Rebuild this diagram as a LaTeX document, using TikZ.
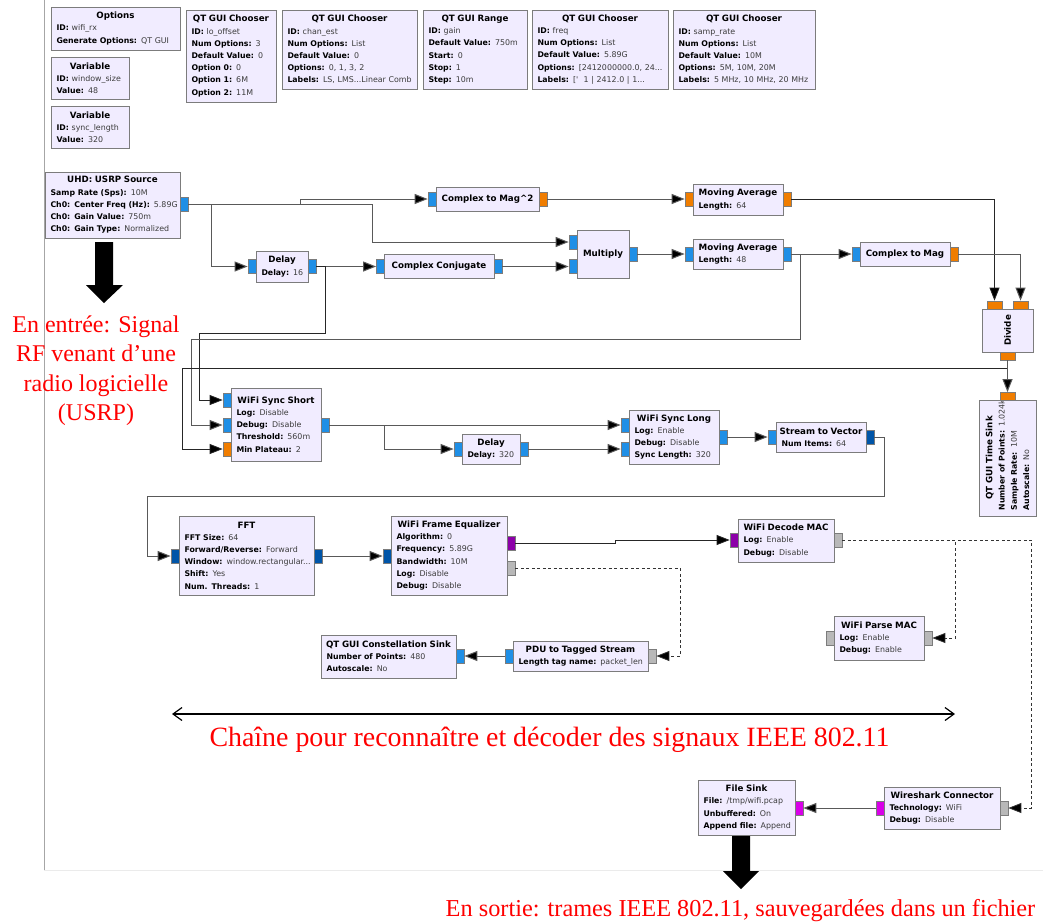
\documentclass[tikz,border=0pt]{standalone}
\usepackage{fontspec}
\usetikzlibrary{arrows.meta}
\newfontfamily\grc{DejaVu Sans}
\newfontfamily\redf{Liberation Serif}
\definecolor{blockfill}{HTML}{F1ECFF}
\definecolor{blockline}{HTML}{7C7C7C}
\definecolor{valcol}{HTML}{3C3C3C}
\definecolor{pblue}{HTML}{1F8FE6}
\definecolor{porange}{HTML}{F07D00}
\definecolor{pdark}{HTML}{0055A8}
\definecolor{ppurple}{HTML}{8C00A8}
\definecolor{pmag}{HTML}{D800E8}
\definecolor{pgray}{HTML}{B8B8B8}
\tikzset{
  block/.style={draw=blockline,fill=blockfill,line width=1pt,inner sep=0pt,align=left,
    font=\grc\fontsize{8}{12.2}\selectfont,text=black},
  portbox/.style={draw=blockline,line width=0.7pt,inner sep=0pt},
  conn/.style={draw=black!65,line width=1pt,-{Triangle[length=13pt,width=10pt,fill=black]}},
  connd/.style={conn,draw=black!85,line width=0.8pt},
  msg/.style={draw=black!80,line width=0.8pt,dash pattern=on 3pt off 2.5pt,-{Triangle[length=13pt,width=10pt,fill=black]}},
  bigarrow/.style={fill=black,draw=none},
  redtext/.style={text=red,font=\redf\fontsize{24}{29.5}\selectfont,inner sep=0pt,align=center}
}
\newcommand{\kv}[2]{\makebox[\linewidth][l]{\fontsize{7.8}{12.2}\selectfont{\bfseries #1:} {\fontsize{7.9}{12.2}\selectfont\color{valcol}#2}}}
\newcommand{\ttl}[1]{\makebox[\linewidth][c]{\fontsize{8.7}{12.2}\selectfont\bfseries #1}}
\newcommand{\blk}[6]{%
  \pgfmathsetmacro\bw{#4-#2}\pgfmathsetmacro\bh{#5-#3}\pgfmathsetmacro\tw{\bw-11}%
  \pgfmathsetmacro\cx{(#2+#4)/2}\pgfmathsetmacro\cy{(#3+#5)/2}%
  \node[block,minimum width=\bw pt,minimum height=\bh pt,text width=\tw pt] (#1) at (\cx,\cy)
    {\ttl{#6}};}
\newcommand{\blkk}[7]{%
  \pgfmathsetmacro\bw{#4-#2}\pgfmathsetmacro\bh{#5-#3}\pgfmathsetmacro\tw{\bw-11}%
  \pgfmathsetmacro\cx{(#2+#4)/2}\pgfmathsetmacro\cy{(#3+#5)/2}%
  \node[block,minimum width=\bw pt,minimum height=\bh pt,text width=\tw pt] (#1) at (\cx,\cy)
    {\ttl{#6}\\#7};}
\newcommand{\blkr}[7]{%
  \pgfmathsetmacro\bw{#4-#2}\pgfmathsetmacro\bh{#5-#3}\pgfmathsetmacro\tw{\bh-11}%
  \pgfmathsetmacro\cx{(#2+#4)/2}\pgfmathsetmacro\cy{(#3+#5)/2}%
  \node[block,rotate=90,minimum width=\bh pt,minimum height=\bw pt,text width=\tw pt] (#1) at (\cx,\cy)
    {\ttl{#6}#7};}
\newcommand{\prt}[4]{\node[portbox,fill=#4,minimum width=8pt,minimum height=14pt] (#1) at (#2,#3) {};}
\newcommand{\prv}[4]{\node[portbox,fill=#4,minimum width=15pt,minimum height=8pt] (#1) at (#2,#3) {};}
\begin{document}
\begin{tikzpicture}[x=1pt,y=-1pt]
\useasboundingbox (0,0) rectangle (1043,921);
\draw[black!35,line width=0.7pt] (44,0) -- (44,870);
\draw[black!8,line width=0.7pt] (44,870) -- (1043,870);

% top variable blocks
\blkk{options}{51}{7}{180}{50}{Options}{\kv{ID}{wifi\_rx}\\\kv{Generate Options}{QT GUI}}
\blkk{winsize}{51}{57}{129}{99}{Variable}{\kv{ID}{window\_size}\\\kv{Value}{48}}
\blkk{synclen}{51}{106}{129}{148}{Variable}{\kv{ID}{sync\_length}\\\kv{Value}{320}}
\blkk{chlo}{186}{10}{276}{102}{QT GUI Chooser}{\kv{ID}{lo\_offset}\\\kv{Num Options}{3}\\\kv{Default Value}{0}\\\kv{Option 0}{0}\\\kv{Option 1}{6M}\\\kv{Option 2}{11M}}
\blkk{chest}{282}{10}{417}{89}{QT GUI Chooser}{\kv{ID}{chan\_est}\\\kv{Num Options}{List}\\\kv{Default Value}{0}\\\kv{Options}{0, 1, 3, 2}\\\kv{Labels}{LS, LMS...Linear Comb}}
\blkk{gain}{423}{10}{527}{89}{QT GUI Range}{\kv{ID}{gain}\\\kv{Default Value}{750m}\\\kv{Start}{0}\\\kv{Stop}{1}\\\kv{Step}{10m}}
\blkk{freq}{532}{10}{668}{89}{QT GUI Chooser}{\kv{ID}{freq}\\\kv{Num Options}{List}\\\kv{Default Value}{5.89G}\\\kv{Options}{[2412000000.0, 24...}\\\kv{Labels}{['\ \ 1 | 2412.0 | 1...}}
\blkk{samp}{673}{10}{815}{89}{QT GUI Chooser}{\kv{ID}{samp\_rate}\\\kv{Num Options}{List}\\\kv{Default Value}{10M}\\\kv{Options}{5M, 10M, 20M}\\\kv{Labels}{5 MHz, 10 MHz, 20 MHz}}

% flow blocks
\blkk{usrp}{45}{172}{180}{238}{UHD: USRP Source}{\kv{Samp Rate (Sps)}{10M}\\\kv{Ch0: Center Freq (Hz)}{5.89G}\\\kv{Ch0: Gain Value}{750m}\\\kv{Ch0: Gain Type}{Normalized}}
\prt{usrpO}{184}{204.5}{pblue}
\blkk{delaya}{256}{251}{308}{282}{Delay}{\kv{Delay}{16}}
\prt{delayaI}{252}{266.5}{pblue}\prt{delayaO}{312}{266.5}{pblue}
\blk{conj}{384}{254}{494}{278}{Complex Conjugate}
\prt{conjI}{380.5}{266.5}{pblue}\prt{conjO}{498}{266.5}{pblue}
\blk{magsq}{436}{187}{539}{211}{Complex to Mag\textasciicircum 2}
\prt{magsqI}{432}{199}{pblue}\prt{magsqO}{543}{199}{porange}
\blkk{maa}{693}{184}{783}{215}{Moving Average}{\kv{Length}{64}}
\prt{maaI}{689}{199}{porange}\prt{maaO}{787}{199}{porange}
\blk{mult}{577}{230}{629}{278}{Multiply}
\prt{multA}{573}{242}{pblue}\prt{multB}{573}{266.5}{pblue}\prt{multO}{633}{254}{pblue}
\blkk{mab}{693}{239}{783}{269}{Moving Average}{\kv{Length}{48}}
\prt{mabI}{689}{254}{pblue}\prt{mabO}{787}{254}{pblue}
\blk{mag}{860}{242}{950}{266}{Complex to Mag}
\prt{magI}{856}{254}{pblue}\prt{magO}{954}{254}{porange}
\blkr{divide}{982}{309}{1033}{352}{Divide}{}
\prv{divA}{994.5}{305}{porange}\prv{divB}{1020.5}{305}{porange}\prv{divO}{1007.5}{356}{porange}
\blkr{tsink}{979}{400}{1036}{516}{QT GUI Time Sink}{\\\kv{Number of Points}{1.024k}\\\kv{Sample Rate}{10M}\\\kv{Autoscale}{No}}
\prv{tsinkI}{1007.5}{396.5}{porange}
\blkk{sshort}{231}{388}{321}{461}{WiFi Sync Short}{\kv{Log}{Disable}\\\kv{Debug}{Disable}\\\kv{Threshold}{560m}\\\kv{Min Plateau}{2}}
\prt{ssA}{227}{400}{pblue}\prt{ssB}{227}{425}{pblue}\prt{ssC}{227}{449}{porange}\prt{ssO}{325}{425}{pblue}
\blkk{delayb}{462}{434}{520}{464}{Delay}{\kv{Delay}{320}}
\prt{delaybI}{458}{449}{pblue}\prt{delaybO}{524}{449}{pblue}
\blkk{slong}{629}{410}{719}{464}{WiFi Sync Long}{\kv{Log}{Enable}\\\kv{Debug}{Disable}\\\kv{Sync Length}{320}}
\prt{slA}{625}{425}{pblue}\prt{slB}{625}{449}{pblue}\prt{slO}{723}{437}{pblue}
\blkk{s2v}{776}{422}{866}{452}{Stream to Vector}{\kv{Num Items}{64}}
\prt{s2vI}{772}{437}{pblue}\prt{s2vO}{870}{437}{pdark}
\blkk{fft}{179}{516}{314}{595}{FFT}{\kv{FFT Size}{64}\\\kv{Forward/Reverse}{Forward}\\\kv{Window}{window.rectangular...}\\\kv{Shift}{Yes}\\\kv{Num. Threads}{1}}
\prt{fftI}{175}{556}{pdark}\prt{fftO}{318}{556}{pdark}
\blkk{equal}{391}{516}{507}{595}{WiFi Frame Equalizer}{\kv{Algorithm}{0}\\\kv{Frequency}{5.89G}\\\kv{Bandwidth}{10M}\\\kv{Log}{Disable}\\\kv{Debug}{Disable}}
\prt{eqI}{387}{556}{pdark}\prt{eqO}{511}{543}{ppurple}\prt{eqM}{511}{568}{pgray}
\blkk{decode}{738}{519}{834}{562}{WiFi Decode MAC}{\kv{Log}{Enable}\\\kv{Debug}{Disable}}
\prt{decI}{734}{540}{ppurple}\prt{decM}{838}{540}{pgray}
\blkk{parse}{834}{616}{924}{660}{WiFi Parse MAC}{\kv{Log}{Enable}\\\kv{Debug}{Enable}}
\prt{parL}{830}{638}{pgray}\prt{parR}{928}{638}{pgray}
\blkk{pdu}{513}{641}{648}{671}{PDU to Tagged Stream}{\kv{Length tag name}{packet\_len}}
\prt{pduI}{509}{656}{pblue}\prt{pduM}{652}{656}{pgray}
\blkk{const}{321}{635}{456}{678}{QT GUI Constellation Sink}{\kv{Number of Points}{480}\\\kv{Autoscale}{No}}
\prt{constI}{460}{656}{pblue}
\blkk{fsink}{698}{780}{795}{835}{File Sink}{\kv{File}{/tmp/wifi.pcap}\\\kv{Unbuffered}{On}\\\kv{Append file}{Append}}
\prt{fsinkI}{799}{808}{pmag}
\blkk{wire}{884}{787}{1000}{829}{Wireshark Connector}{\kv{Technology}{WiFi}\\\kv{Debug}{Disable}}
\prt{wireO}{880}{808}{pmag}\prt{wireM}{1004}{808}{pgray}

% connectors
\draw[conn] (usrpO.east) -- (300,204.5) |- (magsqI.west);
\draw[conn] (usrpO.east) -- (372,204.5) |- (multA.west);
\draw[conn] (usrpO.east) -- (211,204.5) |- (delayaI.west);
\draw[conn] (delayaO.east) -- (conjI.west);
\draw[connd] (delayaO.east) -- (325,266.5) |- (199,333) |- (ssA.west);
\draw[conn] (conjO.east) -- (multB.west);
\draw[conn] (magsqO.east) -- (maaI.west);
\draw[conn] (multO.east) -- (mabI.west);
\draw[conn] (mabO.east) -- (magI.west);
\draw[conn] (mabO.east) -- (800.5,254) |- (191,339) |- (ssB.west);
\draw[connd] (divO.south) |- (182,368.5) |- (ssC.west);
\draw[conn] (divO.south) -- (tsinkI.north);
\draw[connd] (maaO.east) -| (divA.north);
\draw[conn] (magO.east) -| (divB.north);
\draw[conn] (ssO.east) -- (slA.west);
\draw[conn] (ssO.east) -- (384,425) |- (delaybI.west);
\draw[conn] (delaybO.east) -- (slB.west);
\draw[conn] (slO.east) -- (s2vI.west);
\draw[conn] (s2vO.east) -- (884,437) |- (147,496) |- (fftI.west);
\draw[conn] (fftO.east) -- (eqI.west);
\draw[connd] (eqO.east) -- (615,543) |- (decI.west);
\draw[msg] (eqM.east) -- (680,568) |- (pduM.east);
\draw[msg] (decM.east) -- (955.5,540) |- (parR.east);
\draw[msg] (decM.east) -- (1031.5,540) |- (wireM.east);
\draw[conn] (pduI.west) -- (constI.east);
\draw[conn] (wireO.west) -- (fsinkI.east);

% big arrows and annotations
\fill[bigarrow] (95,242) -- (113,242) -- (113,285) -- (123,285) -- (104,303) -- (86,285) -- (95,285) -- cycle;
\fill[bigarrow] (732,836) -- (750,836) -- (750,871) -- (759,871) -- (741,889) -- (723,871) -- (732,871) -- cycle;
\coordinate (spanL) at (172,714);
\coordinate (spanR) at (955,714);
\draw[black,line width=1.6pt,{Straight Barb[length=9pt,width=13pt,line width=1.2pt]}-{Straight Barb[length=9pt,width=13pt,line width=1.2pt]}] (spanL) -- (spanR);
\node[redtext] (entree) at (96,370.5) {En entrée: Signal\\RF venant d’une\\radio logicielle\\(USRP)};
\node[redtext,font=\redf\fontsize{27.9}{32}\selectfont] (chain) at (549.5,740) {Chaîne pour reconnaître et décoder des signaux IEEE 802.11};
\node[redtext,font=\redf\fontsize{24.3}{28}\selectfont] (sortie) at (740.5,911) {En sortie: trames IEEE 802.11, sauvegardées dans un fichier};
\end{tikzpicture}
\end{document}
